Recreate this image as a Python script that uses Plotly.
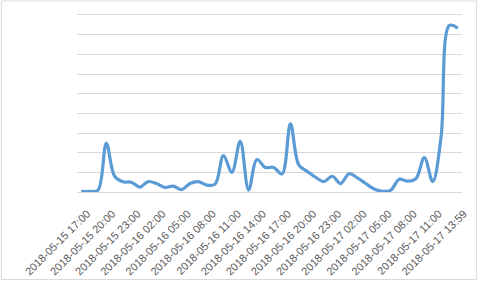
import plotly.graph_objects as go
import pandas as pd

# Categories: hourly from 2018-05-15 17:00, last one 13:59
times = list(pd.date_range("2018-05-15 17:00", "2018-05-17 13:00", freq="h").strftime("%Y-%m-%d %H:%M"))
categories = times + ["2018-05-17 13:59"]

values = [0.03, 0.03, 0.08, 2.47, 0.8, 0.52, 0.5, 0.25, 0.53, 0.43,
          0.23, 0.3, 0.12, 0.43, 0.53, 0.35, 0.4, 1.85, 1.0, 2.57,
          0.1, 1.65, 1.25, 1.25, 0.92, 3.47, 1.38, 1.05, 0.75, 0.53,
          0.8, 0.43, 0.93, 0.72, 0.43, 0.15, 0.03, 0.1, 0.65, 0.55,
          0.68, 1.75, 0.53, 2.8, 8.47, 8.33]

tick_labels = categories[::3]
tick_idx = list(range(0, len(categories), 3))

fig = go.Figure()
fig.add_trace(go.Scatter(
    x=list(range(len(categories))), y=values, mode="lines",
    line=dict(color="#5B9BD5", width=3.2, shape="spline", smoothing=1.0),
    hoverinfo="skip", showlegend=False,
))

L, R, T, B = 77, 15, 15, 91
W, H = 481, 289
pw, ph = W - L - R, H - T - B

fig.update_layout(
    width=W, height=H,
    margin=dict(l=L, r=R, t=T, b=B, pad=0),
    paper_bgcolor="white", plot_bgcolor="white",
    font=dict(family="Liberation Sans, Arial, sans-serif", size=11, color="#595959"),
    xaxis=dict(
        range=[-0.5, len(categories) - 0.5],
        tickmode="array", tickvals=tick_idx, ticktext=tick_labels,
        tickangle=-45, showgrid=False, zeroline=False,
        showline=True, mirror=True, linecolor="#d9d9d9", linewidth=1,
        ticks="", ticklabelstandoff=10, ticklabelshift=6,
        fixedrange=True,
    ),
    yaxis=dict(
        range=[0, 9], tickmode="array", tickvals=list(range(1, 9)),
        showticklabels=False,
        showgrid=True, gridcolor="#d9d9d9", gridwidth=1,
        zeroline=False, showline=False, ticks="", fixedrange=True,
    ),
    shapes=[dict(
        type="rect", xref="paper", yref="paper",
        x0=-(L - 0.5) / pw, x1=(W - L - 0.5) / pw,
        y0=-(B - 0.5) / ph, y1=(H - B - 0.5) / ph,
        line=dict(color="#d9d9d9", width=1), fillcolor="rgba(0,0,0,0)",
        layer="below",
    )],
)

fig.write_html("out.html")
